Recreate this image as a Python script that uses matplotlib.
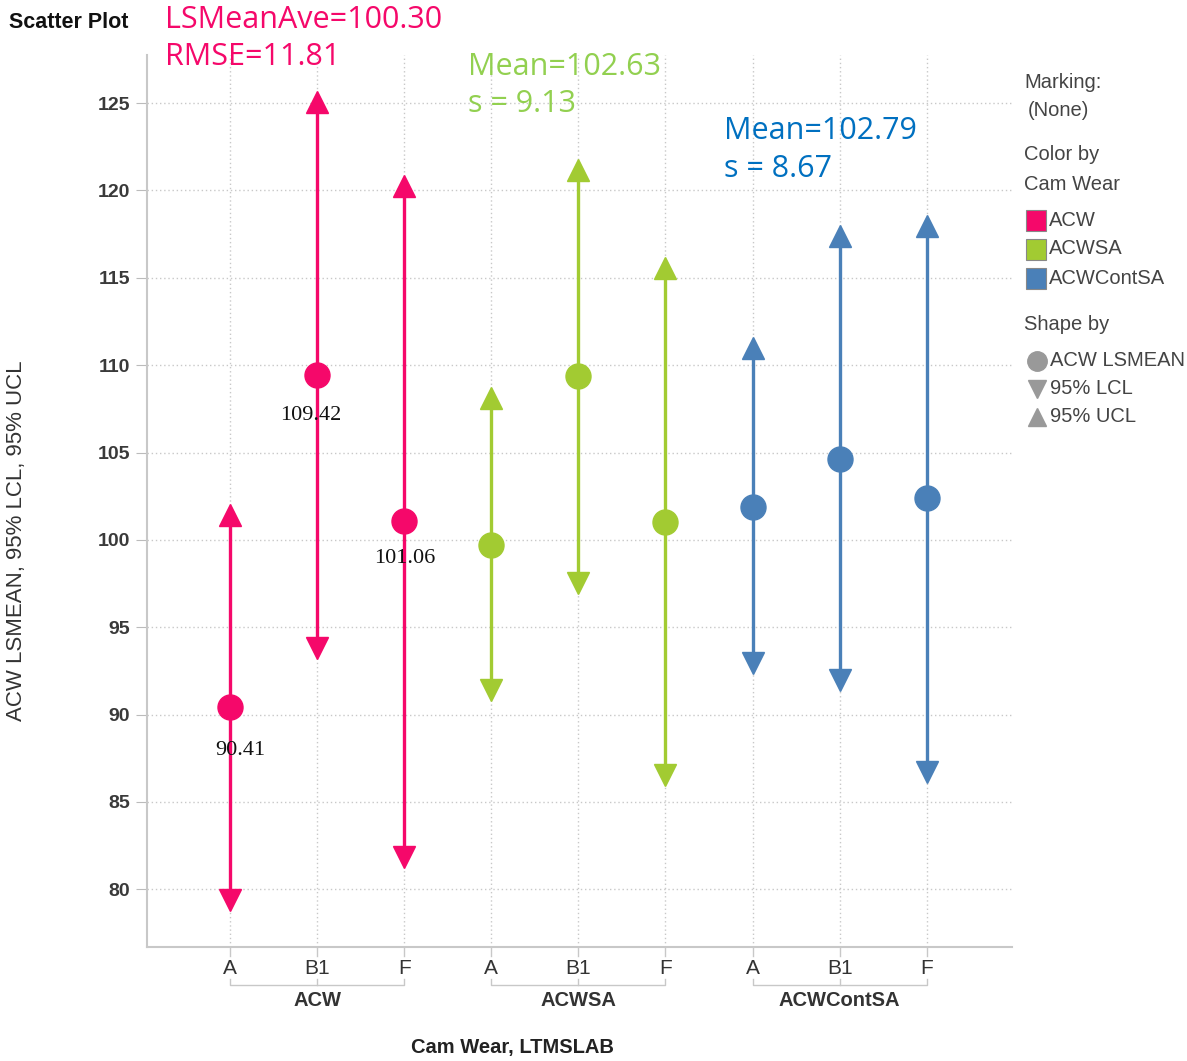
import numpy as np
import matplotlib
matplotlib.use("Agg")
import matplotlib.pyplot as plt
from matplotlib.patches import Rectangle

# LS means with 95% confidence limits, per cam wear group and lab
groups = ["ACW", "ACWSA", "ACWContSA"]
labs = ["A", "B1", "F"]
lsmean = {"ACW": [90.41, 109.42, 101.06],
          "ACWSA": [99.70, 109.37, 101.02],
          "ACWContSA": [101.88, 104.62, 102.39]}
lcl = {"ACW": [79.37, 93.80, 81.84],
       "ACWSA": [91.40, 97.52, 86.53],
       "ACWContSA": [92.95, 91.97, 86.71]}
ucl = {"ACW": [101.42, 125.05, 120.25],
       "ACWSA": [108.11, 121.16, 115.56],
       "ACWContSA": [110.98, 117.39, 117.96]}
colors = {"ACW": "#F5086A", "ACWSA": "#A2CB32", "ACWContSA": "#4A80B8"}
summary = [("LSMeanAve=100.30", "RMSE=11.81", "#F5086A"),
           ("Mean=102.63", "s = 9.13", "#92D050"),
           ("Mean=102.79", "s = 8.67", "#0070C0")]
yticks = [80, 85, 90, 95, 100, 105, 110, 115, 120, 125]

sans = ["Liberation Sans", "DejaVu Sans"]
W, H = 1187, 1061
fig = plt.figure(figsize=(W / 100, H / 100), dpi=100)
ax = fig.add_axes([147 / W, 1 - 947 / H, (1012 - 147) / W, (947 - 55) / H])

xs = []
for gi, g in enumerate(groups):
    c = colors[g]
    for li in range(len(labs)):
        x = gi * 3 + li
        xs.append(x)
        ax.plot([x, x], [lcl[g][li], ucl[g][li]], color=c, lw=2.4, zorder=3)
        ax.plot(x, ucl[g][li], marker="^", ms=16, color=c, mec=c, zorder=4)
        ax.plot(x, lcl[g][li], marker="v", ms=16, color=c, mec=c, zorder=4)
        ax.plot(x, lsmean[g][li], marker="o", ms=18, color=c, mec=c, zorder=5)

# value labels on the ACW means
offsets = [(7, -31), (-5, -29), (0, -27)]
for li, v in enumerate(lsmean["ACW"]):
    ax.annotate(f"{v:.2f}", (li, v), xytext=offsets[li], textcoords="offset points",
                ha="center", va="center", fontsize=16, family="Liberation Serif",
                color="#111111", zorder=6)

ax.set_xlim(-0.955, 8.98)
ax.set_ylim(76.7, 127.75)
ax.set_yticks(yticks)
ax.set_yticklabels([str(t) for t in yticks], family=sans, fontsize=14,
                   fontweight="bold", color="#3A3A3A")
ax.set_xticks(xs)
ax.set_xticklabels([])
ax.tick_params(axis="y", length=8, color="#BBBBBB", pad=4)
ax.tick_params(axis="x", length=0)
ax.grid(True, color="#C8C8C8", ls=(0, (1, 2)), lw=1)
ax.set_axisbelow(True)
for s in ["top", "right"]:
    ax.spines[s].set_visible(False)
for s in ["left", "bottom"]:
    ax.spines[s].set_color("#C8C8C8")
    ax.spines[s].set_linewidth(1.5)

# overlay in pixel coordinates for the labels and legend outside the plot
ov = fig.add_axes([0, 0, 1, 1], facecolor="none")
ov.set_xlim(0, W)
ov.set_ylim(H, 0)
ov.axis("off")

def px(x):
    return ax.transData.transform((x, 0))[0]

for gi, g in enumerate(groups):
    x0 = px(gi * 3)
    x2 = px(gi * 3 + 2)
    for li, lab in enumerate(labs):
        xp = px(gi * 3 + li)
        ov.plot([xp, xp], [947, 956], color="#C8C8C8", lw=1)
        ov.text(xp, 969, lab, ha="center", va="center", family=sans,
                fontsize=15, color="#333333")
    ov.plot([x0, x0, x2, x2], [979, 985, 985, 979], color="#C8C8C8", lw=1)
    xm = px(gi * 3 + 1)
    ov.plot([xm, xm], [979, 985], color="#C8C8C8", lw=1)
    ov.text(xm, 1001, g, ha="center", va="center", family=sans,
            fontsize=14.5, fontweight="bold", color="#333333")

ov.text(512, 1048, "Cam Wear, LTMSLAB", ha="center", va="center", family=sans,
        fontsize=14.5, fontweight="bold", color="#222222")
ov.text(17, 541, "ACW LSMEAN, 95% LCL, 95% UCL", ha="center", va="center",
        rotation=90, family=sans, fontsize=16, color="#333333")
ov.text(9, 23, "Scatter Plot", ha="left", va="center", family=sans,
        fontsize=15.5, fontweight="bold", color="#111111")

pos = [(165, 20, 57), (468, 67, 104), (724, 131, 169)]
for (t1, t2, c), (x, y1, y2) in zip(summary, pos):
    ov.text(x, y1, t1, ha="left", va="center", family=["Open Sans", "DejaVu Sans"],
            fontsize=22, color=c)
    ov.text(x, y2, t2, ha="left", va="center", family=["Open Sans", "DejaVu Sans"],
            fontsize=22, color=c)

# legend
leg_c = "#444444"
ov.text(1024, 82, "Marking:", va="center", family=sans, fontsize=14.5, color=leg_c)
ov.text(1028, 111, "(None)", va="center", family=sans, fontsize=14.5, color=leg_c)
ov.text(1024, 155, "Color by", va="center", family=sans, fontsize=14.5, color=leg_c)
ov.text(1024, 184, "Cam Wear", va="center", family=sans, fontsize=14.5, color=leg_c)
for i, g in enumerate(groups):
    y = 220 + i * 29
    ov.add_patch(Rectangle((1026, y - 10), 20, 21, facecolor=colors[g],
                           edgecolor="#888888", lw=0.8))
    ov.text(1049, y, g, va="center", family=sans, fontsize=14.5, color=leg_c)
ov.text(1024, 325, "Shape by", va="center", family=sans, fontsize=14.5, color=leg_c)
shapes = [("o", "ACW LSMEAN", 14), ("v", "95% LCL", 13), ("^", "95% UCL", 13)]
for i, (m, lab, ms) in enumerate(shapes):
    y = 361 + i * 28
    ov.plot(1037, y, marker=m, ms=ms, color="#999999", mec="#999999")
    ov.text(1050, y, lab, va="center", family=sans, fontsize=14.5, color=leg_c)

fig.savefig("out.png", dpi=100)
